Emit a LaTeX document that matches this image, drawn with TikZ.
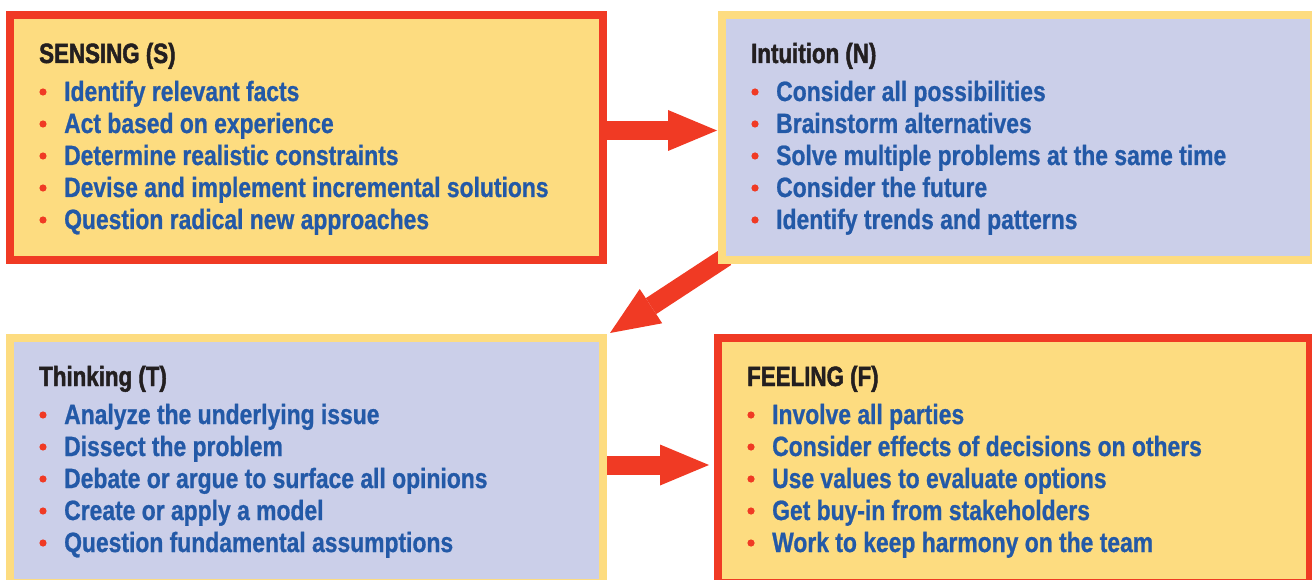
\documentclass[tikz,border=0pt]{standalone}
\usepackage{fontspec}
\setmainfont{Liberation Sans}[FakeStretch=0.82,BoldFeatures={FakeBold=0.8}]
\newfontfamily\ttlfont{Liberation Sans}[FakeStretch=0.8,BoldFeatures={FakeBold=1.6}]
\usetikzlibrary{arrows.meta}
\definecolor{mred}{HTML}{F03A24}
\definecolor{myel}{HTML}{FDDC80}
\definecolor{mlav}{HTML}{CBCFE9}
\definecolor{mblue}{HTML}{2359A7}
\definecolor{mblk}{HTML}{231F20}
\pgfdeclarelayer{bg}
\pgfsetlayers{bg,main}
\tikzset{
  panel/.style={draw, line width=8pt, minimum width=#1, minimum height=245pt,
    inner sep=0pt, outer sep=0pt, anchor=north west},
  redpanel/.style={panel=#1, draw=mred, fill=myel},
  yelpanel/.style={panel=#1, draw=myel, fill=mlav},
  ttl/.style={anchor=base west, inner sep=0pt, text=mblk,
    font=\ttlfont\bfseries\fontsize{27.9}{32}\selectfont},
  itm/.style={anchor=base west, inner sep=0pt, text=mblue,
    font=\bfseries\fontsize{27.9}{32}\selectfont},
  bigarrow/.style={draw=mred, line width=19pt,
    -{Triangle[width=41pt,length=49pt,line width=0pt,fill=mred]}}
}
\newcommand\paneltext[5]{%
  \node[ttl] (#1t) at (#2+33,-#3-52) {#4};
  \foreach \txt [count=\i] in {#5} {
    \node[itm] (#1\i) at (#2+58,{-#3-90-32*(\i-1)}) {\txt};
    \fill[mred] (#2+37,{-#3-81-32*(\i-1)}) circle (3.6pt);
  }%
}
\begin{document}
\begin{tikzpicture}[x=1pt,y=1pt]
\path[use as bounding box] (0,0) rectangle (1312,-580);

\node[redpanel=593pt] (S) at (10,-15) {};
\node[yelpanel=592pt] (N) at (722,-15) {};
\node[yelpanel=593pt] (T) at (10,-338) {};
\node[redpanel=592pt] (F) at (718,-338) {};

\begin{pgfonlayer}{bg}
\draw[bigarrow] ([yshift=7pt]S.east) -- ([xshift=-5pt,yshift=7pt]N.west);
\draw[bigarrow] ([shift={(4pt,3pt)}]N.south west) -- ([shift={(7pt,5pt)}]T.north east);
\draw[bigarrow] ([yshift=-4.5pt]T.east) -- ([xshift=-9pt,yshift=-4.5pt]F.west);
\end{pgfonlayer}

\paneltext{s}{6}{11}{SENSING (S)}{Identify relevant facts,Act based on experience,Determine realistic constraints,Devise and implement incremental solutions,Question radical new approaches}
\paneltext{n}{718}{11}{Intuition (N)}{Consider all possibilities,Brainstorm alternatives,Solve multiple problems at the same time,Consider the future,Identify trends and patterns}
\paneltext{t}{6}{334}{Thinking (T)}{Analyze the underlying issue,Dissect the problem,Debate or argue to surface all opinions,Create or apply a model,Question fundamental assumptions}
\paneltext{f}{714}{334}{FEELING (F)}{Involve all parties,Consider effects of decisions on others,Use values to evaluate options,Get buy-in from stakeholders,Work to keep harmony on the team}
\end{tikzpicture}
\end{document}
